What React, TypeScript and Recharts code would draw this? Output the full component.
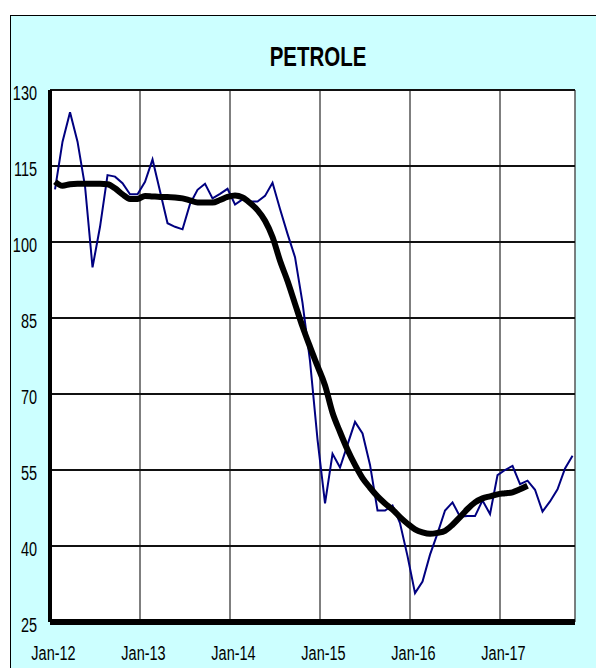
import React from "react";
import { LineChart, Line, XAxis, YAxis, CartesianGrid } from "recharts";

// monthly spot price, Jan-12 .. Oct-17
const spotPrices: number[] = [
  110.4, 119.8, 125.6, 119.8, 111.0, 95.0, 103.0, 113.2, 112.9, 111.6, 109.4, 109.4,
  111.9, 116.3, 110.0, 103.7, 103.0, 102.5, 107.5, 110.3, 111.5, 108.6, 109.5, 110.5,
  107.4, 108.4, 108.0, 108.0, 109.1, 111.7, 106.5, 101.6, 97.0, 88.0, 76.5, 61.0,
  48.4, 58.2, 55.5, 60.0, 64.5, 62.2, 56.0, 47.0, 47.0, 48.0, 44.5, 38.0,
  30.7, 33.0, 38.3, 42.5, 47.0, 48.6, 45.8, 45.9, 45.9, 49.0, 46.3, 54.0,
  55.0, 55.8, 52.2, 52.9, 51.1, 46.8, 48.8, 51.2, 55.3, 57.8,
];

// smoothed trend, Jan-12 .. Apr-17
const trendPrices: number[] = [
  111.9, 111.1, 111.4, 111.5, 111.5, 111.5, 111.5, 111.4, 110.6, 109.4, 108.5, 108.5,
  109.1, 109.0, 108.9, 108.9, 108.8, 108.6, 108.2, 107.8, 107.8, 107.8, 108.3, 108.9,
  109.2, 108.8, 107.7, 106.3, 104.2, 101.0, 96.3, 92.3, 87.8, 83.3, 79.3, 75.5,
  71.7, 66.3, 62.5, 59.0, 56.0, 53.4, 51.5, 49.8, 48.4, 47.2, 45.7, 44.4,
  43.3, 42.7, 42.4, 42.6, 43.0, 44.2, 45.7, 47.3, 48.6, 49.4, 49.8, 50.2,
  50.4, 50.6, 51.2, 51.9,
];

const yearLabels = ["Jan-12", "Jan-13", "Jan-14", "Jan-15", "Jan-16", "Jan-17"];
const yearTicks = [0, 12, 24, 36, 48, 60, 70];
const valueTicks = [25, 40, 55, 70, 85, 100, 115, 130];

// observations are dated late in each month
const DAY_OFFSET = 0.67;

interface Row {
  month: number;
  spot: number;
  trend: number | null;
}

const rows: Row[] = spotPrices.map((v, i) => ({
  month: i + DAY_OFFSET,
  spot: v,
  trend: i < trendPrices.length ? trendPrices[i] : null,
}));

const FONT = "'Liberation Sans', Arial, sans-serif";
const SQUEEZE = 0.69;

const XTick = ({ x, y, payload }: any) => {
  const label = yearLabels[yearTicks.indexOf(payload.value)];
  if (!label) return <g />;
  return (
    <text
      transform={`translate(${x + 3.5}, ${y + 38}) scale(${SQUEEZE}, 1)`}
      textAnchor="middle"
      fontFamily={FONT}
      fontSize={21}
      fill="#000"
    >
      {label}
    </text>
  );
};

const YTick = ({ x, y, payload }: any) => (
  <text
    transform={`translate(${x - 13}, ${y + 10}) scale(${SQUEEZE}, 1)`}
    textAnchor="end"
    fontFamily={FONT}
    fontSize={21}
    fill="#000"
  >
    {payload.value}
  </text>
);

const App: React.FC = () => {
  return (
    <div
      style={{
        position: "fixed",
        left: 0,
        top: 0,
        width: 596,
        height: 668,
        overflow: "hidden",
        background: "#fff",
      }}
    >
      <div
        style={{
          position: "absolute",
          left: 10,
          top: 15,
          width: 700,
          height: 700,
          border: "1px solid #000",
          background: "#CCFFFF",
        }}
      />
      <div
        style={{
          position: "absolute",
          left: 0,
          top: 43,
          width: 636,
          textAlign: "center",
          fontFamily: FONT,
          fontWeight: "bold",
          fontSize: 28,
          lineHeight: "28px",
          color: "#000",
          transform: "scaleX(0.73)",
          transformOrigin: "318px 0",
        }}
      >
        PETROLE
      </div>
      <div style={{ position: "absolute", left: 0, top: 0 }}>
        <LineChart
          width={596}
          height={668}
          data={rows}
          margin={{ top: 90, right: 21, bottom: 0, left: 0 }}
        >
          <CartesianGrid
            horizontal={false}
            stroke="#555"
            strokeWidth={1.5}
            fill="#fff"
            fillOpacity={1}
          />
          <CartesianGrid vertical={false} stroke="#111" strokeWidth={2} />
          <XAxis
            dataKey="month"
            type="number"
            domain={[0, 70]}
            ticks={yearTicks}
            interval={0}
            height={46}
            tickSize={0}
            tickMargin={0}
            tickLine={false}
            axisLine={{ stroke: "#000", strokeWidth: 6 }}
            tick={<XTick />}
          />
          <YAxis
            type="number"
            domain={[25, 130]}
            ticks={valueTicks}
            interval={0}
            width={50}
            tickSize={0}
            tickMargin={0}
            tickLine={false}
            axisLine={{ stroke: "#000", strokeWidth: 4 }}
            tick={<YTick />}
          />
          <Line
            dataKey="spot"
            type="linear"
            stroke="#000080"
            strokeWidth={2}
            dot={false}
            isAnimationActive={false}
          />
          <Line
            dataKey="trend"
            type="monotone"
            stroke="#000"
            strokeWidth={6}
            dot={false}
            isAnimationActive={false}
          />
        </LineChart>
      </div>
    </div>
  );
};

export default App;
